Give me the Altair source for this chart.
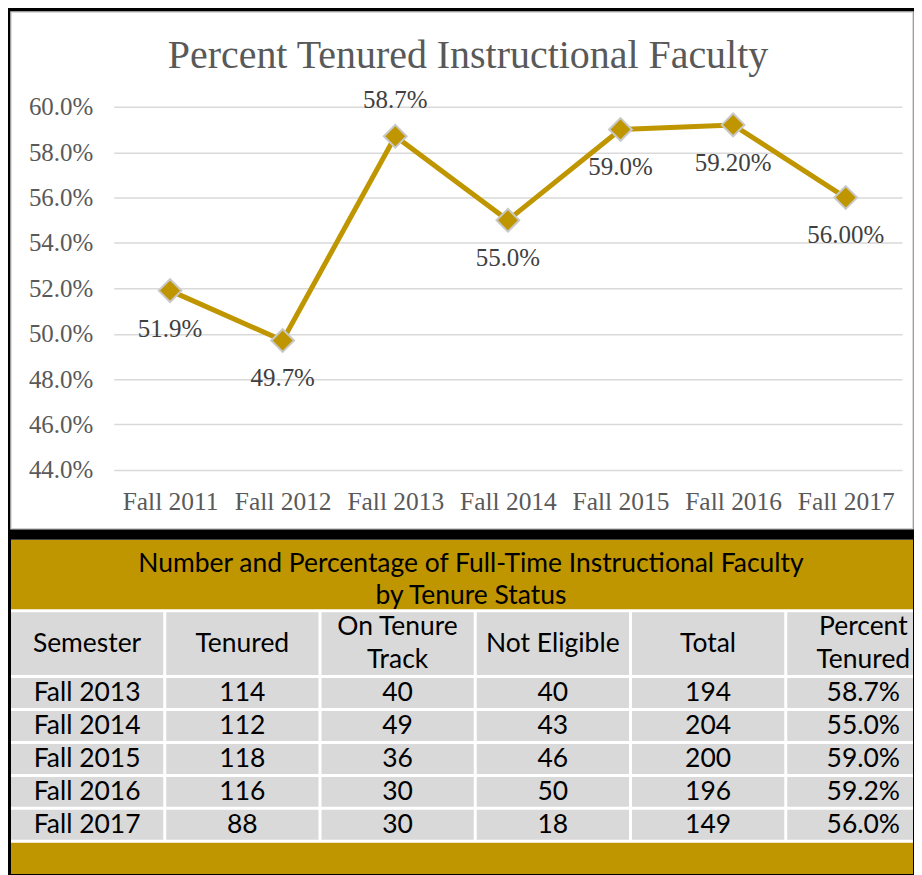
import altair as alt
import pandas as pd

# ---------------- line chart data ----------------
chart_title = "Percent Tenured Instructional Faculty"
semesters = ["Fall 2011", "Fall 2012", "Fall 2013", "Fall 2014", "Fall 2015", "Fall 2016", "Fall 2017"]
pct_tenured = [0.519, 0.497, 0.587, 0.550, 0.590, 0.592, 0.560]
pct_labels = ["51.9%", "49.7%", "58.7%", "55.0%", "59.0%", "59.20%", "56.00%"]
labels_above = ["Fall 2013"]
y_ticks = [0.44, 0.46, 0.48, 0.50, 0.52, 0.54, 0.56, 0.58, 0.60]

# ---------------- table data ----------------
table_title = ["Number and Percentage of Full-Time Instructional Faculty", "by Tenure Status"]
table_headers = ["Semester", "Tenured", "On Tenure\nTrack", "Not Eligible", "Total", "Percent\nTenured"]
table_semesters = ["Fall 2013", "Fall 2014", "Fall 2015", "Fall 2016", "Fall 2017"]
tenured = [114, 112, 118, 116, 88]
on_tenure_track = [40, 49, 36, 30, 30]
not_eligible = [40, 43, 46, 50, 18]
total = [194, 204, 200, 196, 149]
percent_tenured = ["58.7%", "55.0%", "59.0%", "59.2%", "56.0%"]

GOLD = "#BF9600"
SERIF = "Liberation Serif"
SANS = "Lato"

# ---------------- top: line chart ----------------
W1, H1 = 904, 518
line_df = pd.DataFrame({"semester": semesters, "pct": pct_tenured, "label": pct_labels})

x_enc = alt.X(
    "semester:N", sort=semesters,
    scale=alt.Scale(type="point", range=[103, 893], padding=0.5),
    axis=alt.Axis(title=None, orient="bottom", offset=-59, domain=False, ticks=False, grid=False,
                  labelFont=SERIF, labelFontSize=25.5, labelColor="#595959", labelPadding=20, labelAngle=0),
)
y_enc = alt.Y(
    "pct:Q",
    scale=alt.Scale(domain=[0.44, 0.60], range=[459, 95], nice=False, zero=False),
    axis=alt.Axis(title=None, values=y_ticks, format=".1%", offset=-103, domain=False, ticks=False,
                  grid=True, gridColor="#d9d9d9", gridWidth=1.5,
                  labelFont=SERIF, labelFontSize=25, labelColor="#595959", labelPadding=21),
)

base = alt.Chart(line_df).encode(x=x_enc, y=y_enc)
line = base.mark_line(color=GOLD, strokeWidth=5)
points = base.mark_point(shape="diamond", filled=True, size=520, fill=GOLD, stroke="#c8c8c8",
                         strokeWidth=2, opacity=1)
lab_below = base.transform_filter(
    ~alt.FieldOneOfPredicate(field="semester", oneOf=labels_above)
).mark_text(dy=38, font=SERIF, fontSize=25, color="#404040").encode(text="label:N")
lab_above = base.transform_filter(
    alt.FieldOneOfPredicate(field="semester", oneOf=labels_above)
).mark_text(dy=-36, font=SERIF, fontSize=25, color="#404040").encode(text="label:N")

title_mark = alt.Chart(pd.DataFrame({"t": [chart_title]})).mark_text(
    font=SERIF, fontSize=40, color="#595959", align="center", baseline="alphabetic"
).encode(x=alt.value(458), y=alt.value(56), text="t:N")

top = alt.layer(line, points, lab_below, lab_above, title_mark).properties(
    width=W1, height=H1,
    view=alt.ViewBackground(fill="white", stroke="#d0d0d0", strokeWidth=1.5),
)

# ---------------- bottom: table ----------------
W2, H2 = 904, 335
columns = [table_semesters, tenured, on_tenure_track, not_eligible, total, percent_tenured]
ncols = len(table_headers)
nrows = len(table_semesters)
title_rows, header_rows, footer_rows = 2.2, 2.0, 0.95
first_data = title_rows + header_rows
n_units = title_rows + header_rows + nrows + footer_rows

cells = []
for j, h in enumerate(table_headers):
    cells.append({"x": j, "x2": j + 1, "y": title_rows, "y2": first_data, "text": h})
for i in range(nrows):
    for j, col in enumerate(columns):
        cells.append({"x": j, "x2": j + 1, "y": first_data + i, "y2": first_data + i + 1,
                      "text": str(col[i])})
cells_df = pd.DataFrame(cells)
bands_df = pd.DataFrame({
    "x": [0, 0], "x2": [ncols, ncols],
    "y": [0, first_data + nrows], "y2": [title_rows, n_units + 0.1],
})

tx = alt.Scale(domain=[0, 5.81], nice=False, zero=False)
ty = alt.Scale(domain=[0, n_units], reverse=True, nice=False, zero=False)

bands = alt.Chart(bands_df).mark_rect(color=GOLD, clip=True, y2Offset=-3).encode(
    x=alt.X("x:Q", scale=tx, axis=None), x2="x2:Q",
    y=alt.Y("y:Q", scale=ty, axis=None), y2="y2:Q",
)
cell_rects = alt.Chart(cells_df).mark_rect(color="#d9d9d9", clip=True, x2Offset=-3, y2Offset=-3).encode(
    x=alt.X("x:Q", scale=tx, axis=None), x2="x2:Q",
    y=alt.Y("y:Q", scale=ty, axis=None), y2="y2:Q",
)
text_base = alt.Chart(cells_df).transform_calculate(
    xc="(datum.x + datum.x2 - 0.02) / 2", yc="(datum.y + datum.y2 - 0.09) / 2",
    multi="indexof(datum.text, '\\n') >= 0",
).encode(
    x=alt.X("xc:Q", scale=tx, axis=None),
    y=alt.Y("yc:Q", scale=ty, axis=None),
    text="text:N",
)
text_single = text_base.transform_filter("!datum.multi").mark_text(
    font=SANS, fontSize=26.5, color="black", clip=True)
text_multi = text_base.transform_filter("datum.multi").mark_text(
    font=SANS, fontSize=26.5, color="black", lineBreak="\n", lineHeight=33, dy=-16.5, clip=True)

table_title_mark = alt.Chart(pd.DataFrame({"t": ["\n".join(table_title)]})).mark_text(
    font=SANS, fontSize=26.5, color="black", align="center", baseline="middle",
    lineBreak="\n", lineHeight=32,
).encode(x=alt.value(461), y=alt.value(24), text="t:N")

table = alt.layer(bands, cell_rects, text_single, text_multi, table_title_mark).properties(
    width=W2, height=H2,
    view=alt.ViewBackground(fill="white", strokeWidth=0),
)

chart = alt.vconcat(top, table, spacing=10).properties(
    background="black",
    padding={"left": 2, "top": 2, "right": 0, "bottom": 2},
)

chart.save("out.html", embed_options={"renderer": "svg", "actions": False})
